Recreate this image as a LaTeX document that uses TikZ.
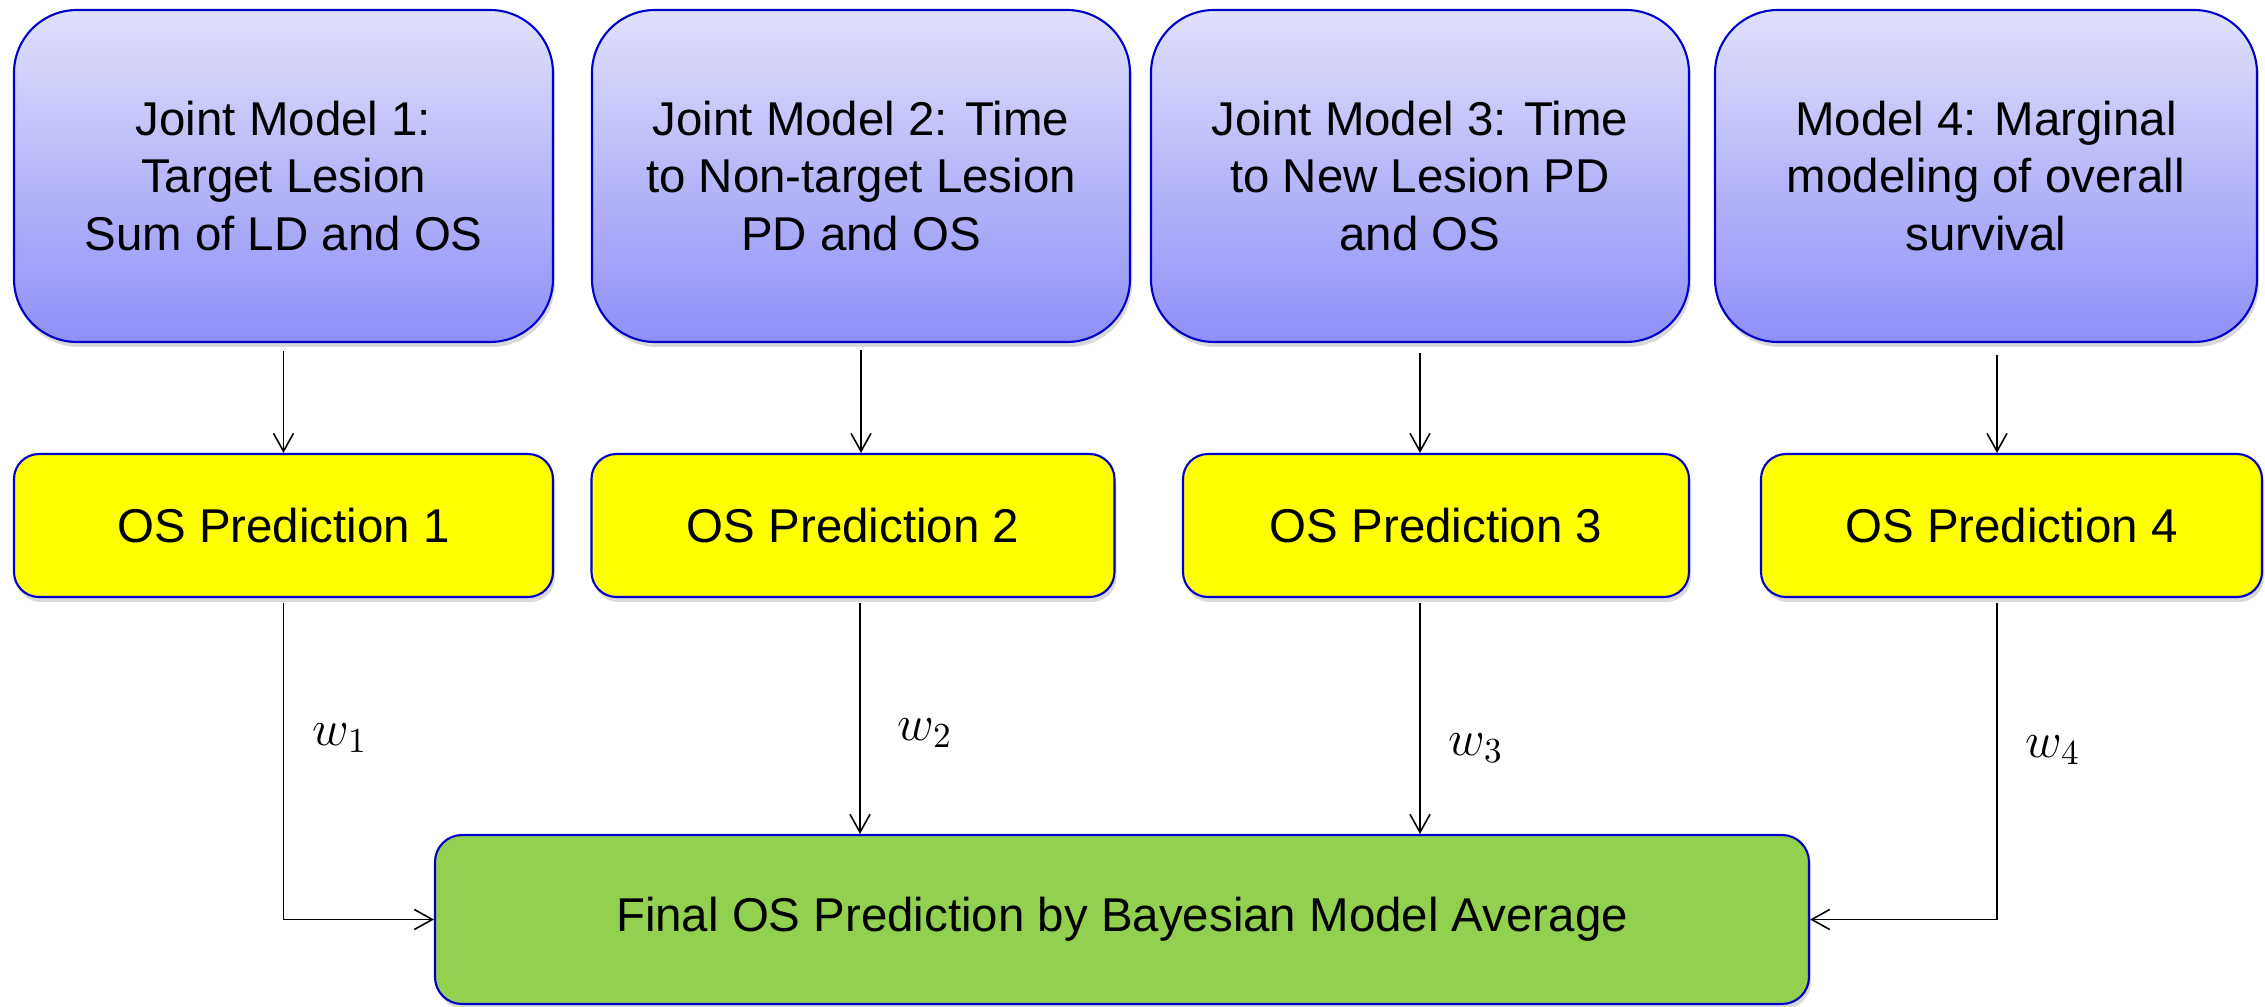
\documentclass[tikz,border=0pt]{standalone}
\usepackage[no-math]{fontspec}
\setmainfont{Liberation Sans}
\usetikzlibrary{arrows.meta,shadows}

\definecolor{modeltop}{RGB}{224,224,251}
\definecolor{modelbot}{RGB}{143,143,248}
\definecolor{predfill}{RGB}{255,255,0}
\definecolor{finalfill}{RGB}{146,208,80}
\definecolor{boxline}{RGB}{0,0,200}

\begin{document}
\begin{tikzpicture}[
  box/.style={draw=boxline, line width=0.6pt, align=center, inner sep=0pt,
    font=\fontsize{13.5}{16.4}\selectfont,
    drop shadow={shadow xshift=0.02cm, shadow yshift=-0.05cm, opacity=0.3}},
  modelbox/.style={box, rounded corners=0.63cm, minimum width=5.39cm,
    minimum height=3.32cm, top color=modeltop, bottom color=modelbot},
  predbox/.style={box, rounded corners=0.25cm, minimum height=1.43cm, fill=predfill},
  finalbox/.style={box, rounded corners=0.27cm, fill=finalfill},
  arr/.style={-{Straight Barb[length=0.18cm,width=0.2cm]}, line width=0.45pt},
  wlab/.style={font=\fontsize{14}{16}\selectfont}
]
\useasboundingbox (0,0) rectangle (22.65,10.07);

% models
\node[modelbox] (m1) at (2.835,8.31) {Joint Model 1:\\Target Lesion\\Sum of LD and OS};
\node[modelbox, minimum width=5.38cm] (m2) at (8.61,8.31) {Joint Model 2: Time\\to Non-target Lesion\\PD and OS};
\node[modelbox, minimum width=5.38cm] (m3) at (14.20,8.31) {Joint Model 3: Time\\to New Lesion PD\\and OS};
\node[modelbox, minimum width=5.42cm] (m4) at (19.86,8.31) {Model 4: Marginal\\modeling of overall\\survival};

% predictions
\node[predbox, minimum width=5.39cm] (p1) at (2.835,4.815) {OS Prediction 1};
\node[predbox, minimum width=5.23cm] (p2) at (8.53,4.815) {OS Prediction 2};
\node[predbox, minimum width=5.06cm] (p3) at (14.36,4.815) {OS Prediction 3};
\node[predbox, minimum width=5.01cm] (p4) at (20.115,4.815) {OS Prediction 4};

% average
\node[finalbox, minimum width=13.74cm, minimum height=1.69cm] (fin) at (11.22,0.875)
  {Final OS Prediction by Bayesian Model Average};

% model -> prediction
\draw[arr] ([yshift=-0.08cm]m1.south) -- (p1.north);
\draw[arr] ([yshift=-0.07cm]m2.south) -- (m2.south |- p2.north);
\draw[arr] ([yshift=-0.1cm]m3.south) -- (m3.south |- p3.north);
\draw[arr] ([xshift=0.11cm,yshift=-0.12cm]m4.south) -- ([xshift=0.11cm]m4.south |- p4.north);

% prediction -> average
\draw[arr] ([yshift=-0.05cm]p1.south) |- (fin.west);
\draw[arr] ([xshift=0.07cm,yshift=-0.05cm]p2.south) -- ([xshift=0.07cm]p2.south |- fin.north);
\draw[arr] ([xshift=-0.16cm,yshift=-0.05cm]p3.south) -- ([xshift=-0.16cm]p3.south |- fin.north);
\draw[arr] ([xshift=-0.145cm,yshift=-0.05cm]p4.south) |- (fin.east);

% weights
\node[wlab] (w1) at (3.40,2.69) {$w_1$};
\node[wlab] (w2) at (9.25,2.74) {$w_2$};
\node[wlab] (w3) at (14.76,2.59) {$w_3$};
\node[wlab] (w4) at (20.53,2.57) {$w_4$};
\end{tikzpicture}
\end{document}
